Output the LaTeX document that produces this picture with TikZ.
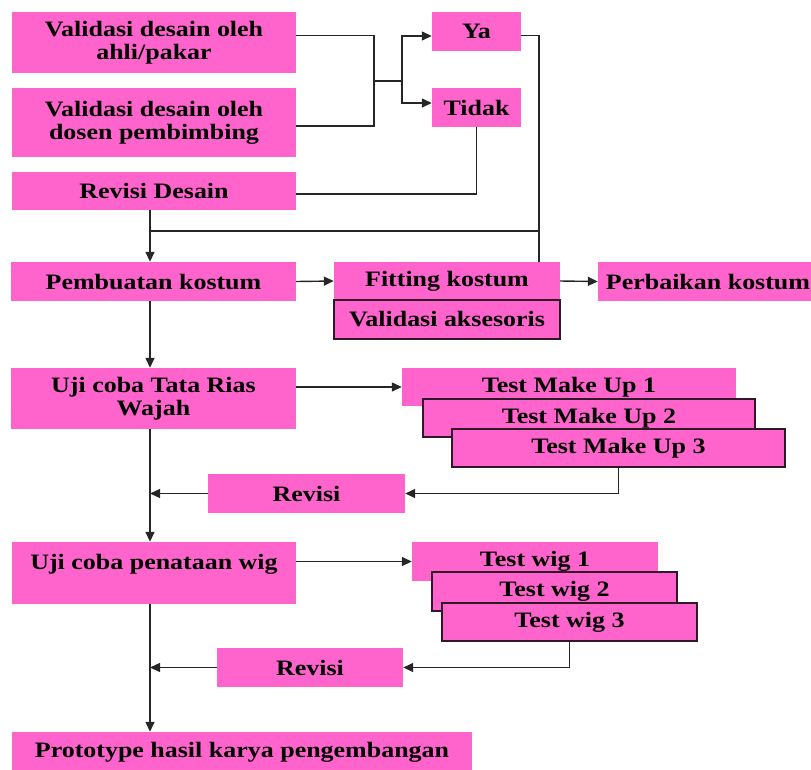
\documentclass[tikz,border=0pt]{standalone}
\usepackage{fontspec}
\setmainfont{Liberation Serif}[FakeStretch=1.18]
\usetikzlibrary{arrows.meta}
\definecolor{boxpink}{RGB}{255,99,204}
\definecolor{boxedge}{RGB}{45,25,40}
\tikzset{box/.style={fill=boxpink, inner sep=0pt, align=center,
            font=\fontsize{22}{23}\selectfont\bfseries},
         framed/.style={draw=boxedge, line width=1.3pt},
         flow/.style={draw=black!85, line width=1.4pt},
         tip/.style={-{Triangle[length=10pt,width=9pt]}}}

\begin{document}
\begin{tikzpicture}[x=1pt,y=-1pt]
  \clip (0,0) rectangle (811,769);
  % validasi desain
  \node[box, minimum width=284, minimum height=61] (valahli) at (154,42.5) {Validasi desain oleh\\ahli/pakar};
  \node[box, minimum width=284, minimum height=69] (valdosen) at (154,122.5) {Validasi desain oleh\\dosen pembimbing};
  \node[box, minimum width=284, minimum height=38] (revdesain) at (154,191) {Revisi Desain};
  \node[box, minimum width=89, minimum height=39] (ya) at (476.5,31.5) {Ya};
  \node[box, minimum width=89, minimum height=39] (tidak) at (476.5,107.5) {Tidak};
  % kostum
  \node[box, minimum width=285, minimum height=39] (pembuatan) at (153.5,281.5) {Pembuatan kostum};
  \node[box, minimum width=226, minimum height=38] (fitting) at (447,281) {Fitting kostum};
  \node[box, framed, minimum width=226, minimum height=39] (aksesoris) at (447,319.5) {Validasi aksesoris};
  \node[box, minimum width=220, minimum height=39] (perbaikan) at (708,281.5) {Perbaikan kostum};
  % tata rias
  \node[box, minimum width=285, minimum height=61] (ujirias) at (153.5,398.5) {Uji coba Tata Rias\\Wajah};
  \node[box, minimum width=334, minimum height=38] (tmu1) at (569,387) {Test Make Up 1};
  \node[box, framed, minimum width=332, minimum height=38] (tmu2) at (589,418) {Test Make Up 2};
  \node[box, framed, minimum width=333, minimum height=38] (tmu3) at (618.5,448) {Test Make Up 3};
  \node[box, minimum width=197, minimum height=39] (revisia) at (306.5,493.5) {Revisi};
  % wig
  \node[box, minimum width=284, minimum height=62] (ujiwig) at (154,573) {Uji coba penataan wig\\\mbox{}};
  \node[box, minimum width=246, minimum height=39] (tw1) at (535,561.5) {Test wig 1};
  \node[box, framed, minimum width=245, minimum height=39] (tw2) at (554.5,591.5) {Test wig 2};
  \node[box, framed, minimum width=255, minimum height=38] (tw3) at (569.5,622) {Test wig 3};
  \node[box, minimum width=186, minimum height=39] (revisib) at (310,667.5) {Revisi};
  \node[box, minimum width=460, minimum height=40] (prototype) at (242,752) {Prototype hasil karya pengembangan};

  \coordinate (gabung) at (374,81);
  \coordinate (cabang) at (402,81);
  \coordinate (turun) at (539,231);
  \coordinate (poros) at (150,231);
  \coordinate (ahlikanan) at ([yshift=7pt]valahli.east);
  \coordinate (dosenkanan) at ([yshift=-3.5pt]valdosen.east);

  \draw[flow] (ahlikanan) -| (gabung |- dosenkanan) -- (dosenkanan);
  \draw[flow] (gabung) -- (cabang);
  \draw[flow, tip] (cabang) |- ([yshift=-4.5pt]ya.west);
  \draw[flow, tip] (cabang) |- ([yshift=4.5pt]tidak.west);
  \draw[flow] (tidak.south) |- ([yshift=-3pt]revdesain.east);
  \draw[flow] ([yshift=-4pt]ya.east) -| (fitting.north -| turun);
  \draw[flow] (poros) -- (turun);
  \draw[flow, tip] (revdesain.south -| poros) -- (pembuatan.north -| poros);
  \draw[flow, tip] (pembuatan.east) -- (fitting.west);
  \draw[flow, tip] (fitting.east) -- (perbaikan.west);
  \draw[flow, tip] (pembuatan.south -| poros) -- (ujirias.north -| poros);
  \draw[flow, tip] (ujirias.east |- tmu1.west) -- (tmu1.west);
  \draw[flow, tip] (tmu3.south) |- (revisia.east);
  \draw[flow, tip] (revisia.west) -- (poros |- revisia.west);
  \draw[flow, tip] (ujirias.south -| poros) -- (ujiwig.north -| poros);
  \draw[flow, tip] (ujiwig.east |- tw1.west) -- (tw1.west);
  \draw[flow, tip] (tw3.south) |- (revisib.east);
  \draw[flow, tip] (revisib.west) -- (poros |- revisib.west);
  \draw[flow, tip] (ujiwig.south -| poros) -- (prototype.north -| poros);
\end{tikzpicture}
\end{document}
